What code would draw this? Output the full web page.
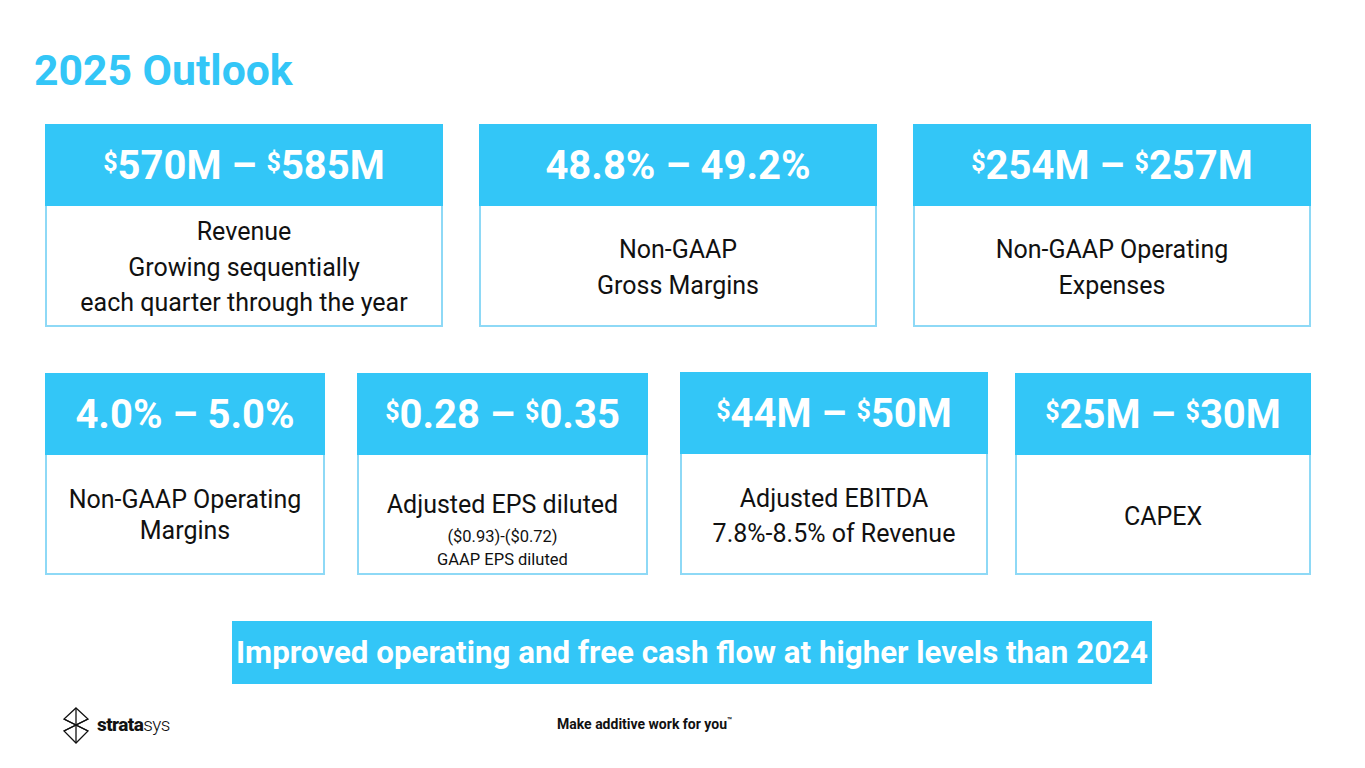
<!DOCTYPE html>
<html>
<head>
<meta charset="utf-8">
<script src="https://cdn.jsdelivr.net/npm/chart.js@4"></script>
<style>
  html, body { margin:0; padding:0; background:#fff; }
  body { width:1365px; height:768px; position:relative; overflow:hidden; font-family: Roboto, "Noto Sans", sans-serif; }
  .title { position:absolute; left:34px; top:45px; font-size:42.7px; font-weight:700; color:#33C6F7; }
  .card { position:absolute; box-sizing:border-box; border:2px solid #8ED9F6; background:#fff; }
  .card .hd { position:absolute; left:-2px; right:-2px; top:-2px; height:82px; background:#33C6F7; color:#fff; font-weight:700; font-size:40px; display:flex; align-items:center; justify-content:center; white-space:nowrap; }
  .card .hd sup { font-size:25px; position:relative; top:-3px; vertical-align:top; line-height:1; }
  .card .bd { position:absolute; left:0; right:0; top:80px; bottom:0; display:flex; flex-direction:column; align-items:center; justify-content:center; text-align:center; color:#111; font-size:25px; }
  .card .bd .small { font-size:16.5px; line-height:23px; }
  .banner { position:absolute; left:232px; top:621px; width:920px; height:63px; background:#33C6F7; color:#fff; font-weight:700; font-size:31.3px; display:flex; align-items:center; justify-content:center; white-space:nowrap; }
  .tag { position:absolute; left:557px; top:716px; font-size:14px; font-weight:700; color:#111; white-space:nowrap; }
  .tag sup { font-size:8px; }
  .logo { position:absolute; left:62px; top:707px; }
  .logotext { position:absolute; left:97px; top:713px; font-size:19px; color:#111; letter-spacing:-0.6px; }
</style>
</head>
<body>
<div class="title" id="title"></div>
<div id="cards"></div>
<div class="banner" id="banner"></div>
<svg class="logo" width="28" height="37" viewBox="0 0 28 37">
  <g fill="none" stroke="#111" stroke-width="1.3">
    <path d="M14 1 L26 12 L2 24 L14 36 L26 24 L2 12 Z"/>
    <path d="M14 1 L14 36"/>
    <path d="M2 12 L26 24 M26 12 L2 24" />
  </g>
</svg>
<div class="logotext"><b style="font-weight:800">strata</b><span style="font-weight:300">sys</span></div>
<div class="tag" id="tag"></div>
<script>
// ---- data ----
const titleText = "2025 Outlook";
const rangeLow  = ["$570M", "48.8%", "$254M", "4.0%", "$0.28", "$44M", "$25M"];
const rangeHigh = ["$585M", "49.2%", "$257M", "5.0%", "$0.35", "$50M", "$30M"];
const metricLines = [
  ["Revenue", "Growing sequentially", "each quarter through the year"],
  ["Non-GAAP", "Gross Margins"],
  ["Non-GAAP Operating", "Expenses"],
  ["Non-GAAP Operating", "Margins"],
  ["Adjusted EPS diluted"],
  ["Adjusted EBITDA", "7.8%-8.5% of Revenue"],
  ["CAPEX"]
];
const noteLines = [[], [], [], [], ["($0.93)-($0.72)", "GAAP EPS diluted"], [], []];
const bannerText = "Improved operating and free cash flow at higher levels than 2024";
const tagline = "Make additive work for you";

// ---- layout (positions / sizes only) ----
const layout = [
  {l:45,  t:124, w:398, h:203, lh:35.5, pt:4},
  {l:479, t:124, w:398, h:203, lh:35.5, pt:4},
  {l:913, t:124, w:398, h:203, lh:35.5, pt:4},
  {l:45,  t:373, w:280, h:202, lh:31,   pt:2},
  {l:357, t:373, w:291, h:202, lh:35,   pt:30},
  {l:680, t:372, w:308, h:203, lh:35,   pt:4},
  {l:1015,t:373, w:296, h:202, lh:35,   pt:4}
];

function fmt(v){
  return v.startsWith("$") ? "<sup>$</sup>" + v.slice(1) : v;
}
document.getElementById("title").textContent = titleText;
document.getElementById("banner").textContent = bannerText;
document.getElementById("tag").innerHTML = tagline + "<sup>™</sup>";
const wrap = document.getElementById("cards");
rangeLow.forEach((lo, i) => {
  const L = layout[i];
  const c = document.createElement("div");
  c.className = "card";
  c.style.left = L.l + "px"; c.style.top = L.t + "px";
  c.style.width = L.w + "px"; c.style.height = L.h + "px";
  const hd = document.createElement("div");
  hd.className = "hd";
  hd.innerHTML = fmt(lo) + "&nbsp;–&nbsp;" + fmt(rangeHigh[i]);
  const bd = document.createElement("div");
  bd.className = "bd";
  bd.style.lineHeight = L.lh + "px";
  bd.style.paddingTop = L.pt + "px";
  bd.style.boxSizing = "border-box";
  let html = metricLines[i].map(s => "<div>" + s + "</div>").join("");
  if (noteLines[i].length) {
    html += "<div style='height:3px'></div>" + noteLines[i].map(s => "<div class='small'>" + s + "</div>").join("");
  }
  bd.innerHTML = html;
  c.appendChild(hd); c.appendChild(bd);
  wrap.appendChild(c);
});
</script>
</body>
</html>
